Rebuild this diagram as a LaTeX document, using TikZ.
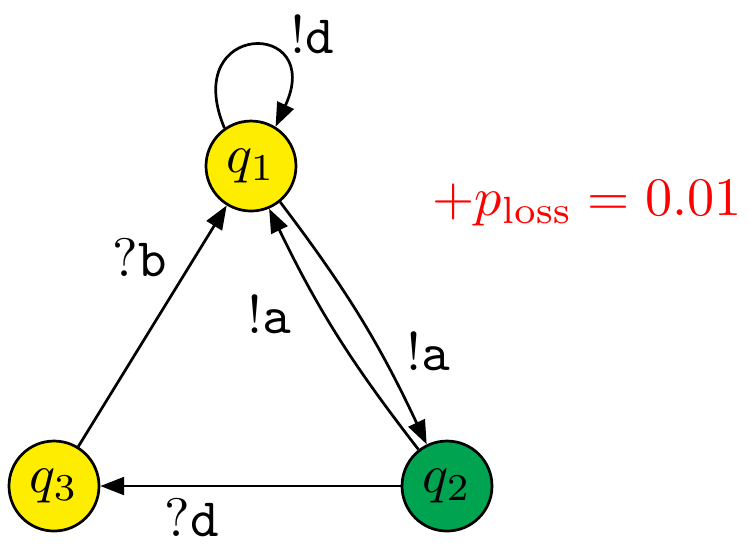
\documentclass[tikz,border=0pt]{standalone}
\usetikzlibrary{arrows.meta}
\definecolor{qyellow}{RGB}{255,237,0}
\definecolor{qgreen}{RGB}{0,163,80}
\begin{document}
\begin{tikzpicture}[x=0.1845pt,y=-0.1845pt,
  state/.style={circle,draw,line width=0.5pt,minimum size=90*0.1845pt,inner sep=0pt},
  edge/.style={line width=0.5pt,-{Triangle[length=4.4pt,width=3.3pt]}},
  lbl/.style={inner sep=0pt}]
\useasboundingbox (0,0) rectangle (749,543);
\node[state,fill=qyellow] (q1) at (251,166) {$q_1$};
\node[state,fill=qgreen] (q2) at (447,486) {$q_2$};
\node[state,fill=qyellow] (q3) at (54,486) {$q_3$};
\draw[edge] (q1.125) .. controls +(-45,-108) and +(50,-108) .. (q1.58);
\draw[edge] (q3) -- (q1);
\draw[edge] (q2) -- (q3);
\draw[edge] (q1.-51) to[bend left=6] (q2.116);
\draw[edge] (q2.128) to[bend left=6] (q1.-67);
\node[lbl] (ld) at (312,35) {$!\mathtt{d}$};
\node[lbl] (lb) at (140,258) {$?\mathtt{b}$};
\node[lbl] (la1) at (269,315) {$!\mathtt{a}$};
\node[lbl] (la2) at (428,352) {$!\mathtt{a}$};
\node[lbl] (ldd) at (192,518) {$?\mathtt{d}$};
\node[lbl,text=red] (pl) at (587,203) {$+p_{\mathrm{loss}} = 0.01$};
\end{tikzpicture}
\end{document}
